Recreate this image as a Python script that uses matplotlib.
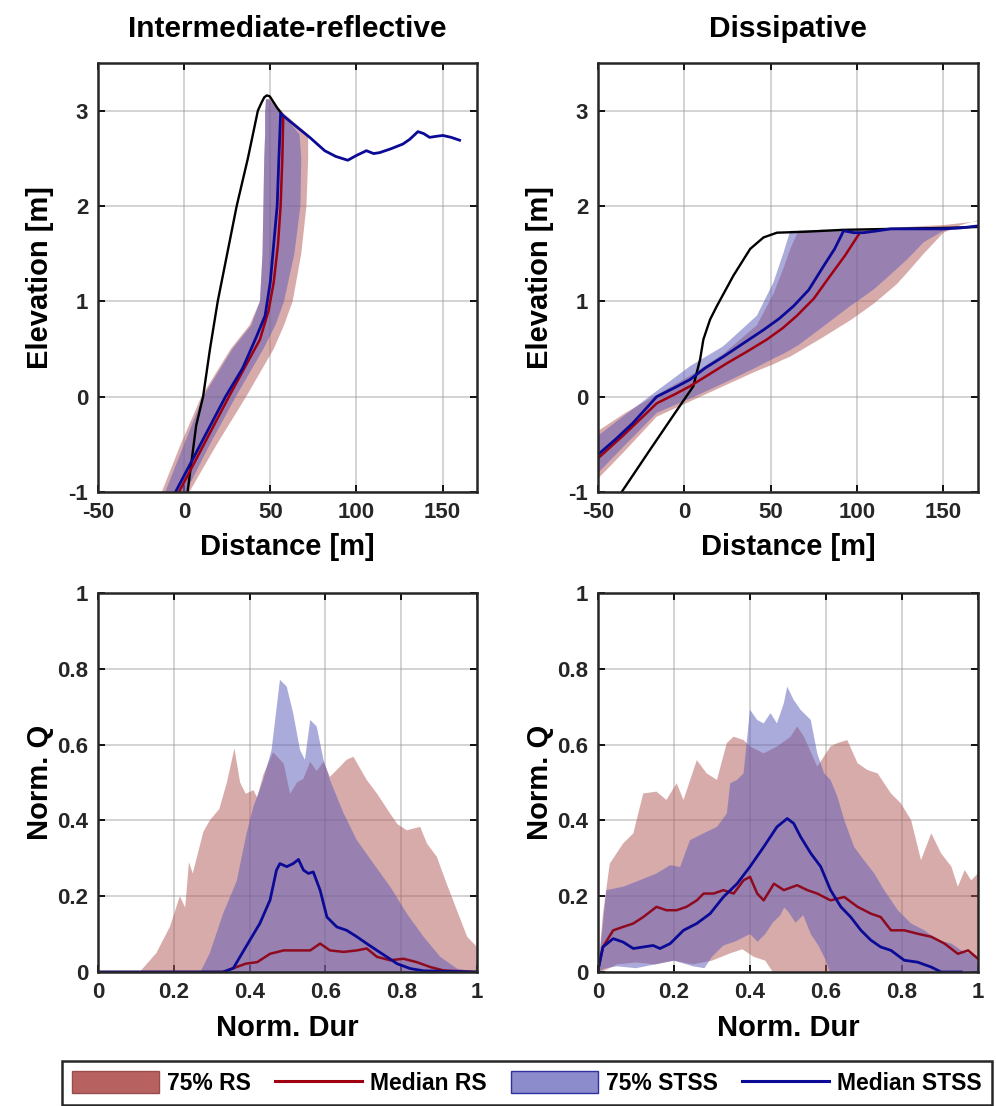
import numpy as np
import matplotlib
matplotlib.use('Agg')
import matplotlib.pyplot as plt
from matplotlib.patches import Patch
from matplotlib.lines import Line2D

plt.rcParams['font.family'] = ['Liberation Sans', 'DejaVu Sans']
plt.rcParams['font.weight'] = 'bold'
plt.rcParams['axes.unicode_minus'] = False

RS_FILL = (0.70, 0.35, 0.35)
STSS_FILL = (0.35, 0.35, 0.72)
RS_LINE = '#8E0A1F'
STSS_LINE = '#0A0A96'

# ---------------- Intermediate-reflective profiles (distance m, elevation m)
ir_pre_x = [2, 7, 11, 15, 19.5, 25, 30.5, 37, 42.8, 44.8, 46.5, 48, 49.7, 51.5, 54, 56.5]
ir_pre_z = [-1, -0.3, 0, 0.5, 1, 1.5, 2, 2.5, 3.0, 3.08, 3.14, 3.16, 3.15, 3.1, 3.03, 2.97]
ir_stss_x = [-5, 9.5, 24, 34, 42, 47, 50, 52, 54, 55, 56, 64, 72.9, 81.6, 88, 95, 100,
             105.8, 110, 113.5, 120, 127, 131, 135.7, 139, 142.5, 146, 150.2, 155, 159.9]
ir_stss_z = [-1, -0.5, 0, 0.3, 0.63, 0.85, 1.2, 1.6, 2.0, 2.5, 2.97, 2.85, 2.72, 2.58, 2.52,
             2.48, 2.53, 2.58, 2.55, 2.56, 2.6, 2.65, 2.7, 2.78, 2.76, 2.72, 2.73, 2.74, 2.72, 2.69]
ir_rs_x = [-3, 26, 44, 49, 52, 54.5, 56, 57, 57.5]
ir_rs_z = [-1, 0, 0.6, 0.9, 1.2, 1.6, 2.0, 2.5, 2.92]
ir_band_z = [-1, -0.5, 0, 0.5, 0.75, 1, 1.5, 2, 2.5, 2.75, 2.97, 3.12]
ir_rs_lo = [-13, -2, 10, 27, 38, 44, 45.5, 46, 46.5, 47, 47, 47.5]
ir_rs_hi = [3, 19, 36, 52, 58, 63, 68, 71, 72, 72, 58, 50]
ir_stss_lo = [-11, 0, 11, 28, 39, 44, 45.5, 46, 46.5, 47, 47, 47.5]
ir_stss_hi = [1, 15, 30, 46, 53, 58, 64, 67.5, 68, 67, 57, 49]

# ---------------- Dissipative profiles
ds_pre_x = [-36.3, -20, -5, 5.2, 9.1, 11, 14.9, 18.8, 28.4, 38.1, 45.8, 53.6, 70, 92, 120, 150, 170]
ds_pre_z = [-1, -0.56, -0.16, 0.11, 0.39, 0.6, 0.81, 0.95, 1.27, 1.55, 1.67, 1.72, 1.73, 1.75, 1.76, 1.77, 1.78]
ds_stss_x = [-50.8, -40, -30, -16, -5, 3.3, 12, 22.6, 35, 45.8, 55, 63.2, 72, 80.6, 87, 92.2,
             98, 103.8, 112, 119.3, 130, 138.6, 150, 160, 169.5]
ds_stss_z = [-0.62, -0.45, -0.28, 0.0, 0.1, 0.18, 0.3, 0.42, 0.57, 0.7, 0.82, 0.95, 1.12, 1.37,
             1.55, 1.74, 1.72, 1.72, 1.74, 1.76, 1.76, 1.76, 1.76, 1.77, 1.79]
ds_rs_x = [-50.8, -35, -16, -5, 3.3, 14, 24.6, 36, 47.8, 57, 65.2, 75, 84.5, 93, 100.9]
ds_rs_z = [-0.66, -0.4, -0.07, 0.03, 0.11, 0.23, 0.35, 0.47, 0.6, 0.72, 0.85, 1.03, 1.27, 1.48, 1.7]
ds_band_x = [-50, -35, -16, 3.3, 22.6, 42, 51.6, 57.4, 61.3, 66, 80, 96, 100, 110, 123, 129, 138.6, 150, 160, 170]
ds_stss_hi = [-0.41, -0.2, 0.06, 0.32, 0.53, 0.85, 1.2, 1.51, 1.74, 1.74, 1.75, 1.74, 1.74, 1.75,
              1.76, 1.76, 1.77, 1.77, 1.78, 1.8]
ds_stss_lo = [-0.8, -0.52, -0.17, -0.02, 0.14, 0.31, 0.4, 0.45, 0.49, 0.54, 0.73, 0.95, 1.0, 1.13,
              1.34, 1.44, 1.62, 1.74, 1.76, 1.78]
ds_rs_hi = [-0.36, -0.18, 0.02, 0.22, 0.45, 0.75, 1.08, 1.35, 1.55, 1.74, 1.75, 1.75, 1.75, 1.76,
            1.77, 1.78, 1.79, 1.8, 1.82, 1.84]
ds_rs_lo = [-0.86, -0.58, -0.21, -0.05, 0.11, 0.27, 0.34, 0.39, 0.42, 0.47, 0.62, 0.8, 0.85, 0.98,
            1.18, 1.3, 1.5, 1.72, 1.8, 1.85]

# ---------------- Intermediate-reflective normalised discharge
bl_rs_hi_x = [0, 0.11, 0.154, 0.19, 0.216, 0.23, 0.24, 0.25, 0.278, 0.295, 0.32, 0.34, 0.36, 0.375,
              0.39, 0.41, 0.42, 0.436, 0.462, 0.49, 0.507, 0.525, 0.542, 0.56, 0.577, 0.595, 0.612,
              0.63, 0.656, 0.674, 0.69, 0.709, 0.736, 0.771, 0.79, 0.815, 0.85, 0.868, 0.894, 0.92,
              0.947, 0.974, 1.0]
bl_rs_hi = [0, 0, 0.05, 0.12, 0.2, 0.17, 0.29, 0.26, 0.37, 0.4, 0.43, 0.5, 0.59, 0.5, 0.47, 0.48,
            0.46, 0.52, 0.58, 0.55, 0.47, 0.5, 0.51, 0.555, 0.53, 0.555, 0.515, 0.533, 0.56, 0.568,
            0.54, 0.507, 0.471, 0.418, 0.39, 0.374, 0.383, 0.339, 0.304, 0.233, 0.163, 0.093, 0.066]
bl_stss_hi_x = [0, 0.27, 0.295, 0.33, 0.366, 0.392, 0.41, 0.436, 0.458, 0.48, 0.498, 0.515, 0.533,
                0.546, 0.56, 0.577, 0.595, 0.612, 0.648, 0.683, 0.727, 0.771, 0.815, 0.859, 0.903,
                0.947, 1.0]
bl_stss_hi = [0, 0, 0.05, 0.154, 0.24, 0.366, 0.436, 0.507, 0.586, 0.771, 0.753, 0.683, 0.586, 0.56,
              0.665, 0.648, 0.56, 0.507, 0.419, 0.348, 0.286, 0.225, 0.154, 0.093, 0.04, 0.009, 0]
bl_stss_med_x = [0, 0.33, 0.357, 0.39, 0.427, 0.454, 0.471, 0.48, 0.498, 0.515, 0.529, 0.542, 0.555,
                 0.568, 0.586, 0.604, 0.63, 0.656, 0.683, 0.709, 0.736, 0.762, 0.789, 0.824, 0.86, 1.0]
bl_stss_med = [0, 0, 0.01, 0.066, 0.128, 0.19, 0.269, 0.286, 0.278, 0.286, 0.297, 0.269, 0.26, 0.264,
               0.216, 0.145, 0.119, 0.11, 0.093, 0.075, 0.057, 0.04, 0.022, 0.009, 0.003, 0]
bl_rs_med_x = [0, 0.33, 0.357, 0.39, 0.42, 0.454, 0.49, 0.524, 0.56, 0.586, 0.612, 0.648, 0.683,
               0.709, 0.736, 0.771, 0.806, 0.841, 0.877, 0.912, 1.0]
bl_rs_med = [0, 0, 0.01, 0.022, 0.026, 0.048, 0.057, 0.057, 0.057, 0.075, 0.057, 0.053, 0.057, 0.062,
             0.04, 0.031, 0.035, 0.026, 0.013, 0.004, 0]

# ---------------- Dissipative normalised discharge
br_rs_hi_x = [0, 0.013, 0.031, 0.066, 0.093, 0.119, 0.154, 0.18, 0.207, 0.225, 0.26, 0.286, 0.313,
              0.339, 0.357, 0.383, 0.4, 0.436, 0.471, 0.507, 0.524, 0.542, 0.577, 0.612, 0.63, 0.656,
              0.683, 0.709, 0.736, 0.771, 0.797, 0.824, 0.85, 0.877, 0.903, 0.93, 0.947, 0.965,
              0.982, 1.0]
br_rs_hi = [0, 0.154, 0.286, 0.339, 0.366, 0.471, 0.476, 0.454, 0.498, 0.454, 0.559, 0.524, 0.507,
            0.604, 0.621, 0.612, 0.595, 0.577, 0.595, 0.621, 0.648, 0.621, 0.542, 0.595, 0.604, 0.612,
            0.551, 0.533, 0.524, 0.471, 0.445, 0.401, 0.295, 0.366, 0.313, 0.278, 0.225, 0.269,
            0.242, 0.26]
br_rs_lo_x = [0, 0.02, 0.05, 0.1, 0.15, 0.2, 0.25, 0.3, 0.35, 0.38, 0.41, 0.44, 0.46, 1.0]
br_rs_lo = [0, 0.005, 0.02, 0.025, 0.02, 0.03, 0.02, 0.03, 0.05, 0.06, 0.04, 0.03, 0, 0]
br_stss_hi_x = [0, 0.022, 0.066, 0.11, 0.154, 0.19, 0.216, 0.242, 0.278, 0.313, 0.339, 0.348, 0.366,
                0.383, 0.4, 0.419, 0.436, 0.454, 0.471, 0.489, 0.498, 0.515, 0.533, 0.56, 0.577,
                0.595, 0.612, 0.63, 0.648, 0.674, 0.7, 0.727, 0.753, 0.789, 0.824, 0.859, 0.894,
                0.93, 0.956, 1.0]
br_stss_hi = [0, 0.216, 0.225, 0.242, 0.26, 0.282, 0.277, 0.348, 0.366, 0.383, 0.418, 0.498, 0.507,
              0.524, 0.692, 0.665, 0.656, 0.683, 0.656, 0.709, 0.753, 0.718, 0.692, 0.665, 0.577,
              0.524, 0.507, 0.463, 0.401, 0.33, 0.295, 0.26, 0.216, 0.163, 0.128, 0.11, 0.084,
              0.075, 0.057, 0.04]
br_stss_lo_x = [0, 0.02, 0.05, 0.1, 0.15, 0.2, 0.25, 0.28, 0.3, 0.33, 0.36, 0.38, 0.4, 0.42, 0.44,
                0.46, 0.48, 0.49, 0.5, 0.52, 0.54, 0.56, 0.58, 0.6, 0.61, 1.0]
br_stss_lo = [0, 0.01, 0.015, 0.01, 0.02, 0.03, 0.015, 0.01, 0.04, 0.07, 0.08, 0.09, 0.1, 0.08, 0.1,
              0.13, 0.15, 0.17, 0.16, 0.13, 0.15, 0.1, 0.07, 0.03, 0, 0]
br_rs_med_x = [0, 0.013, 0.04, 0.066, 0.093, 0.119, 0.154, 0.18, 0.207, 0.233, 0.26, 0.278, 0.304,
               0.33, 0.357, 0.383, 0.4, 0.419, 0.436, 0.463, 0.489, 0.524, 0.551, 0.577, 0.612,
               0.648, 0.683, 0.718, 0.744, 0.771, 0.806, 0.841, 0.877, 0.912, 0.947, 0.974, 1.0]
br_rs_med = [0.004, 0.066, 0.11, 0.119, 0.128, 0.145, 0.172, 0.163, 0.163, 0.172, 0.189, 0.207, 0.207,
             0.216, 0.207, 0.242, 0.251, 0.207, 0.189, 0.233, 0.216, 0.229, 0.216, 0.207, 0.189,
             0.198, 0.172, 0.154, 0.145, 0.11, 0.11, 0.101, 0.093, 0.075, 0.048, 0.057, 0.035]
br_stss_med_x = [0, 0.013, 0.04, 0.066, 0.093, 0.119, 0.145, 0.163, 0.19, 0.225, 0.26, 0.295, 0.33,
                 0.366, 0.4, 0.436, 0.471, 0.498, 0.515, 0.533, 0.56, 0.586, 0.612, 0.639, 0.665,
                 0.692, 0.718, 0.744, 0.771, 0.806, 0.841, 0.877, 0.903, 0.956]
br_stss_med = [0.004, 0.066, 0.088, 0.079, 0.062, 0.066, 0.07, 0.062, 0.075, 0.11, 0.128, 0.154,
               0.198, 0.233, 0.278, 0.33, 0.383, 0.405, 0.392, 0.357, 0.313, 0.278, 0.216, 0.172,
               0.145, 0.11, 0.084, 0.066, 0.057, 0.031, 0.026, 0.013, 0, 0]

W, H = 996, 1106
fig = plt.figure(figsize=(W / 100, H / 100), dpi=100)


def ax_at(l, t, r, b):
    return fig.add_axes([l / W, 1 - b / H, (r - l) / W, (b - t) / H])


def band(ax, xh, yh, xl, yl, color):
    xs = np.r_[np.asarray(xh, float), np.asarray(xl, float)[::-1]]
    ys = np.r_[np.asarray(yh, float), np.asarray(yl, float)[::-1]]
    ax.fill(xs, ys, color=color, alpha=0.5, lw=0)


def style(ax):
    ax.grid(True, color='#9a9a9a', lw=1.2, alpha=0.5)
    ax.set_axisbelow(True)
    ax.tick_params(direction='in', top=True, right=True, length=5, width=1.3,
                   labelsize=16, labelcolor='#262626', pad=7)
    for s in ax.spines.values():
        s.set_linewidth(1.8)
        s.set_color('#262626')


ax1 = ax_at(98, 63, 477, 492)
ax2 = ax_at(598, 63, 978, 492)
ax3 = ax_at(98, 593, 477, 972)
ax4 = ax_at(598, 593, 978, 972)

# top left
band(ax1, ir_rs_lo, ir_band_z, ir_rs_hi, ir_band_z, RS_FILL)
band(ax1, ir_stss_lo, ir_band_z, ir_stss_hi, ir_band_z, STSS_FILL)
ax1.plot(ir_pre_x, ir_pre_z, color='black', lw=1.7)
ax1.plot(ir_rs_x, ir_rs_z, color='#A00010', lw=1.8)
ax1.plot(ir_stss_x, ir_stss_z, color=STSS_LINE, lw=2.0)

# top right
band(ax2, ds_band_x, ds_rs_hi, ds_band_x, ds_rs_lo, RS_FILL)
band(ax2, ds_band_x, ds_stss_hi, ds_band_x, ds_stss_lo, STSS_FILL)
ax2.plot(ds_pre_x, ds_pre_z, color='black', lw=1.7)
ax2.plot(ds_rs_x, ds_rs_z, color='#A00010', lw=1.8)
ax2.plot(ds_stss_x, ds_stss_z, color=STSS_LINE, lw=2.0)

for ax in (ax1, ax2):
    ax.set_xlim(-50, 170)
    ax.set_ylim(-1, 3.5)
    ax.set_xticks([-50, 0, 50, 100, 150])
    ax.set_yticks([-1, 0, 1, 2, 3])
    ax.set_xlabel('Distance [m]', fontsize=21, fontweight='bold')
    ax.set_ylabel('Elevation [m]', fontsize=21, fontweight='bold')
    ax.xaxis.set_label_coords(0.5, -0.095)
    ax.yaxis.set_label_coords(-0.115, 0.5)
    style(ax)

ax1.set_title('Intermediate-reflective', fontsize=21.5, fontweight='bold', pad=19)
ax2.set_title('Dissipative', fontsize=21.5, fontweight='bold', pad=19)

# bottom left
band(ax3, bl_rs_hi_x, bl_rs_hi, [0, 1], [0, 0], RS_FILL)
band(ax3, bl_stss_hi_x, bl_stss_hi, [0, 1], [0, 0], STSS_FILL)
ax3.plot(bl_rs_med_x, bl_rs_med, color=RS_LINE, lw=1.8)
ax3.plot(bl_stss_med_x, bl_stss_med, color=STSS_LINE, lw=2.0)

# bottom right
band(ax4, br_rs_hi_x, br_rs_hi, br_rs_lo_x, br_rs_lo, RS_FILL)
band(ax4, br_stss_hi_x, br_stss_hi, br_stss_lo_x, br_stss_lo, STSS_FILL)
ax4.plot(br_rs_med_x, br_rs_med, color=RS_LINE, lw=1.8)
ax4.plot(br_stss_med_x, br_stss_med, color=STSS_LINE, lw=2.0)

ticks = [0, 0.2, 0.4, 0.6, 0.8, 1]
for ax in (ax3, ax4):
    ax.set_xlim(0, 1)
    ax.set_ylim(0, 1)
    ax.set_xticks(ticks)
    ax.set_yticks(ticks)
    ax.set_xticklabels(['0', '0.2', '0.4', '0.6', '0.8', '1'])
    ax.set_yticklabels(['0', '0.2', '0.4', '0.6', '0.8', '1'])
    ax.set_xlabel('Norm. Dur', fontsize=21, fontweight='bold')
    ax.set_ylabel('Norm. Q', fontsize=21, fontweight='bold')
    ax.xaxis.set_label_coords(0.5, -0.11)
    ax.yaxis.set_label_coords(-0.115, 0.5)
    style(ax)

handles = [Patch(facecolor=(0.72, 0.38, 0.38), edgecolor=(0.6, 0.3, 0.3)),
           Line2D([], [], color='#A00010', lw=2.2),
           Patch(facecolor=(0.55, 0.55, 0.8), edgecolor='#3030A0'),
           Line2D([], [], color=STSS_LINE, lw=2.2)]
labels = ['75% RS', 'Median RS', '75% STSS', 'Median STSS']
leg = fig.legend(handles, labels, loc='upper left', bbox_to_anchor=(62 / W, 1 - 1061 / H),
                 ncol=4, frameon=True, fancybox=False, edgecolor='#262626', framealpha=1,
                 handlelength=3.8, handleheight=1.1, handletextpad=0.35, columnspacing=1.05,
                 borderpad=0.45, borderaxespad=0,
                 prop={'weight': 'bold', 'size': 16.5})
leg.get_frame().set_linewidth(1.8)

fig.savefig('out.png', dpi=100)
